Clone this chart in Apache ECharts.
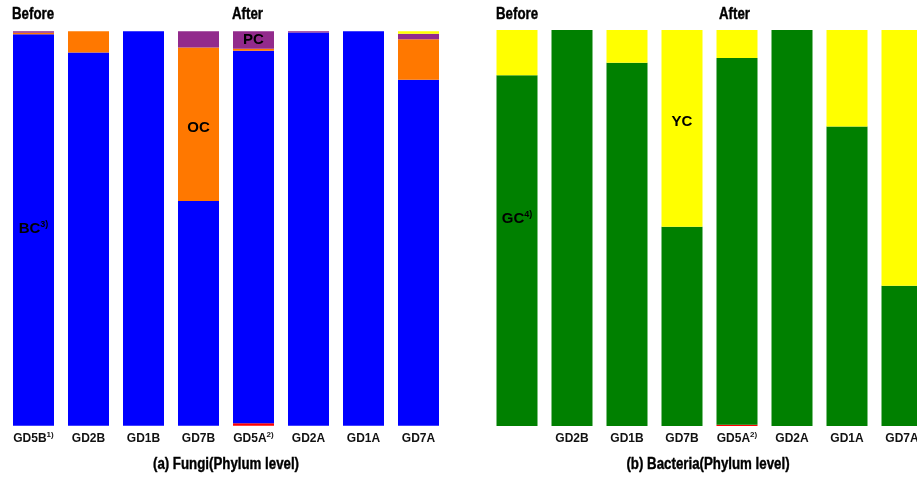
<!DOCTYPE html>
<html><head><meta charset="utf-8">
<script src="https://cdn.jsdelivr.net/npm/echarts@6/dist/echarts.min.js"></script>
<style>html,body{margin:0;padding:0;background:#fff}#c{width:917px;height:477px}</style>
</head><body><div id="c"></div>
<script>
// ---------- data ----------
var fungiCategories = ['GD5B', 'GD2B', 'GD1B', 'GD7B', 'GD5A', 'GD2A', 'GD1A', 'GD7A'];
var fungiNotes      = ['1)', '', '', '', '2)', '', '', ''];
var bacteriaCategories = ['', 'GD2B', 'GD1B', 'GD7B', 'GD5A', 'GD2A', 'GD1A', 'GD7A'];
var bacteriaNotes      = ['', '', '', '', '2)', '', '', ''];

// fungi (%), stacked bottom -> top
var fungiRed    = [0, 0, 0, 0, 0.6, 0, 0, 0];
var fungiBlue   = [99.25, 94.6, 100, 57.0, 94.5, 99.7, 100, 87.7];
var fungiOrange = [0.4, 5.4, 0, 38.9, 0.5, 0, 0, 10.3];
var fungiPurple = [0.35, 0, 0, 4.1, 4.4, 0.3, 0, 1.4];
var fungiYellow = [0, 0, 0, 0, 0, 0, 0, 0.6];

// bacteria (%), stacked bottom -> top
var bactRed    = [0, 0, 0, 0, 0.3, 0, 0, 0];
var bactGreen  = [88.6, 100, 91.7, 50.3, 92.6, 100, 75.6, 35.4];
var bactYellow = [11.4, 0, 8.3, 49.7, 7.1, 0, 24.4, 64.6];

var groupLabels = ['Before', 'After'];
var chartTitles = ['(a) Fungi(Phylum level)', '(b) Bacteria(Phylum level)'];

// ---------- build ----------
var FONT = "'Liberation Sans', Arial, sans-serif";
var rich = {
  b: {fontFamily: FONT, fontWeight: 'bold', fontSize: 12, color: '#111', lineHeight: 15},
  s: {fontFamily: FONT, fontWeight: 'bold', fontSize: 8, color: '#111', verticalAlign: 'top', lineHeight: 15}
};
var richBig = {
  b: {fontFamily: FONT, fontWeight: 'bold', fontSize: 15, color: '#000', lineHeight: 18},
  s: {fontFamily: FONT, fontWeight: 'bold', fontSize: 9, color: '#000', verticalAlign: 'top', lineHeight: 18}
};

function withLabel(values, idx, name, note, offsetY) {
  return values.map(function (v, i) {
    if (i !== idx) return v;
    return {
      value: v,
      label: {
        show: true, position: 'inside', offset: [0, offsetY],
        formatter: '{b|' + name + '}' + (note ? '{s|' + note + '}' : ''),
        rich: richBig
      }
    };
  });
}

function catAxis(gridIndex, cats, notes) {
  return {
    type: 'category', gridIndex: gridIndex, data: cats,
    axisLine: {show: false}, axisTick: {show: false}, splitLine: {show: false},
    axisLabel: {
      margin: 5, interval: 0,
      formatter: function (v, i) { return '{b|' + v + '}' + (notes[i] ? '{s|' + notes[i] + '}' : ''); },
      rich: rich
    }
  };
}
function valAxis(gridIndex) {
  return {type: 'value', gridIndex: gridIndex, min: 0, max: 100, show: false};
}
function bar(name, data, color, xi, stack) {
  return {
    type: 'bar', name: name, data: data, stack: stack, xAxisIndex: xi, yAxisIndex: xi,
    barWidth: 41, itemStyle: {color: color}, silent: true, animation: false
  };
}

var series = [
  bar('red', fungiRed, '#FF0000', 0, 'f'),
  bar('blue', withLabel(fungiBlue, 0, 'BC', '3)', -1), '#0000FF', 0, 'f'),
  bar('orange', withLabel(fungiOrange, 3, 'OC', '', 4), '#FF7800', 0, 'f'),
  bar('purple', withLabel(fungiPurple, 4, 'PC', '', 0), '#922A8C', 0, 'f'),
  bar('yellow', fungiYellow, '#FFFF00', 0, 'f'),
  bar('bred', bactRed, '#FF0000', 1, 'b'),
  bar('green', withLabel(bactGreen, 0, 'GC', '4)', -32), '#008000', 1, 'b'),
  bar('byellow', withLabel(bactYellow, 3, 'YC', '', -7), '#FFFF00', 1, 'b')
];

function txt(x, y, text, size, align) {
  return {type: 'text', x: x, y: y, scaleX: 0.83, style: {text: text, fontFamily: FONT, fontWeight: 'bold', fontSize: size, fill: '#000', stroke: '#000', lineWidth: 0.4, textAlign: align || 'left', textVerticalAlign: 'middle'}};
}

var chart = echarts.init(document.getElementById('c'), null, {renderer: 'canvas'});
chart.setOption({
  animation: false,
  backgroundColor: '#fff',
  grid: [
    {left: 6, width: 440, top: 31.3, bottom: 51.3, outerBoundsMode: 'none'},
    {left: 489.5, width: 440, top: 30, bottom: 51, outerBoundsMode: 'none'}
  ],
  xAxis: [catAxis(0, fungiCategories, fungiNotes), catAxis(1, bacteriaCategories, bacteriaNotes)],
  yAxis: [valAxis(0), valAxis(1)],
  series: series,
  graphic: [
    txt(12, 15, groupLabels[0], 16),
    txt(232, 15, groupLabels[1], 16),
    txt(496, 15, groupLabels[0], 16),
    txt(719, 15, groupLabels[1], 16),
    txt(226, 465, chartTitles[0], 16, 'center'),
    txt(708, 465, chartTitles[1], 16, 'center')
  ]
});
</script></body></html>
